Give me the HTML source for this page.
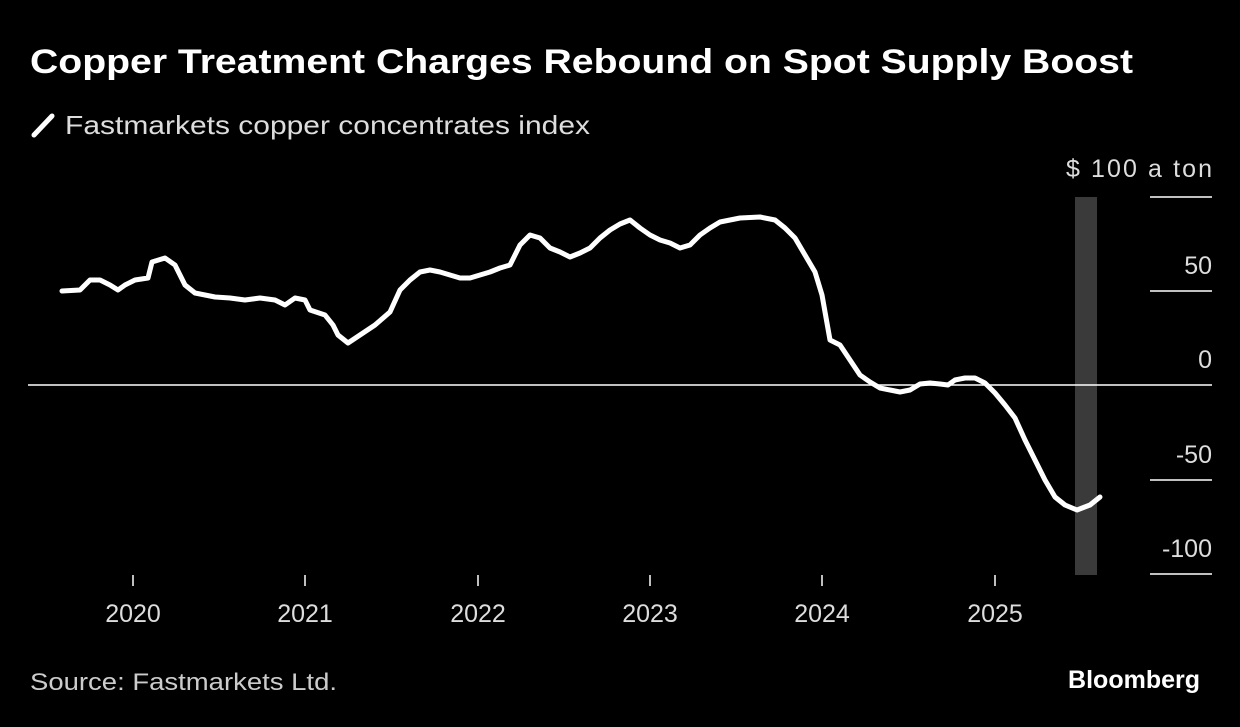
<!DOCTYPE html>
<html><head><meta charset="utf-8"><style>
body{margin:0;background:#000;width:1240px;height:722px;overflow:hidden;font-family:"Liberation Sans",sans-serif;}
</style></head><body>
<svg width="1240" height="722" xmlns="http://www.w3.org/2000/svg" font-family="Liberation Sans, sans-serif">
<rect width="1240" height="722" fill="#000"/>
<text x="30" y="73" fill="#fff" font-size="34" font-weight="bold" textLength="1103" lengthAdjust="spacingAndGlyphs">Copper Treatment Charges Rebound on Spot Supply Boost</text>
<line x1="34" y1="135" x2="52" y2="116" stroke="#fff" stroke-width="5" stroke-linecap="round"/>
<text x="65" y="134" fill="#ddd" font-size="26" textLength="525" lengthAdjust="spacingAndGlyphs">Fastmarkets copper concentrates index</text>
<rect x="1075" y="197" width="22" height="378" fill="#3a3a3a"/>
<g stroke="#fff" stroke-width="1.5">
<line x1="1150" y1="197" x2="1212" y2="197"/>
<line x1="1150" y1="291" x2="1212" y2="291"/>
<line x1="28" y1="385" x2="1212" y2="385"/>
<line x1="1150" y1="480" x2="1212" y2="480"/>
<line x1="1150" y1="574" x2="1212" y2="574"/>
<line x1="133" y1="575" x2="133" y2="586"/>
<line x1="305" y1="575" x2="305" y2="586"/>
<line x1="478" y1="575" x2="478" y2="586"/>
<line x1="650" y1="575" x2="650" y2="586"/>
<line x1="822" y1="575" x2="822" y2="586"/>
<line x1="995" y1="575" x2="995" y2="586"/>
</g>
<g fill="#ddd" font-size="25" text-anchor="end">
<text x="1212" y="177" textLength="146" lengthAdjust="spacing">$ 100  a  ton</text>
<text x="1212" y="274">50</text>
<text x="1212" y="368">0</text>
<text x="1212" y="463">-50</text>
<text x="1212" y="557">-100</text>
</g>
<g fill="#ddd" font-size="25" text-anchor="middle">
<text x="133" y="622">2020</text><text x="305" y="622">2021</text><text x="478" y="622">2022</text>
<text x="650" y="622">2023</text><text x="822" y="622">2024</text><text x="995" y="622">2025</text>
</g>
<polyline fill="none" stroke="#fff" stroke-width="5" stroke-linejoin="round" stroke-linecap="round" points="62,291 80,290 90,280 100,280 110,285 118,290 125,285 135,280 148,278 152,262 165,258 175,265 185,285 195,293 205,295 215,297 230,298 245,300 260,298 275,300 285,305 295,298 305,300 310,310 325,315 333,325 338,335 348,343 360,335 375,325 390,312 400,290 410,280 420,272 430,270 440,272 450,275 460,278 470,278 480,275 490,272 500,268 510,265 520,245 530,235 540,238 550,248 560,252 570,257 580,253 590,248 600,238 610,230 620,224 630,220 640,228 650,235 660,240 670,243 680,248 690,245 700,235 710,228 720,222 740,218 760,217 775,220 785,228 795,238 805,255 815,272 822,295 830,340 840,345 850,360 860,375 870,382 880,388 890,390 900,392 910,390 920,384 930,383 940,384 948,385 955,380 965,378 975,378 985,383 995,393 1005,405 1015,418 1025,440 1035,460 1045,480 1055,497 1065,505 1077,510 1090,505 1100,497"/>
<text x="30" y="690" fill="#ccc" font-size="24" textLength="307" lengthAdjust="spacingAndGlyphs">Source: Fastmarkets Ltd.</text>
<text x="1200" y="688" fill="#fff" font-size="25" font-weight="bold" text-anchor="end">Bloomberg</text>
</svg>
</body></html>
